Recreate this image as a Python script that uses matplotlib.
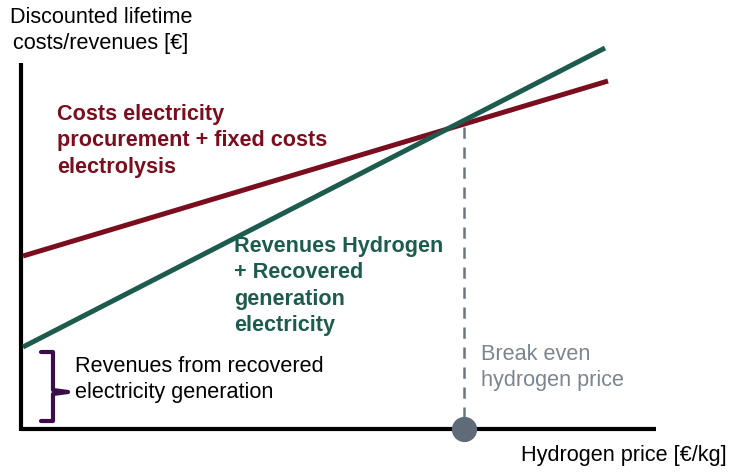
import matplotlib.pyplot as plt

plt.rcParams['font.family'] = ['Liberation Sans', 'DejaVu Sans']

# line endpoints (x = hydrogen price axis, y = discounted costs/revenues), in canvas units
costs_x = [23, 608]
costs_y = [256, 81]
rev_x = [23, 605]
rev_y = [347, 48]
break_even_x = 464
break_even_y = 127

red = '#7a0e1e'
green = '#1e5b4f'
purple = '#3b0e4b'
grey = '#7c858d'

fig = plt.figure(figsize=(7.34, 4.76), dpi=100)
ax = fig.add_axes([0, 0, 1, 1])
ax.set_xlim(0, 734)
ax.set_ylim(476, 0)
ax.axis('off')

# axes
ax.plot([21, 656], [429, 429], color='black', lw=3, solid_capstyle='butt')
ax.plot([21, 21], [63, 431], color='black', lw=3, solid_capstyle='butt')

# lines
ax.plot(costs_x, costs_y, color=red, lw=3.6, solid_capstyle='butt')
ax.plot(rev_x, rev_y, color=green, lw=3.6, solid_capstyle='butt')

# break even
ax.plot([break_even_x, break_even_x], [break_even_y, 429], color='#6b7580', lw=1.8,
        dashes=(4.5, 3.5))
ax.scatter([break_even_x], [429], s=330, color='#5f6b78', zorder=5, linewidths=0)

# brace
bx = [41, 53, 53, 68, 53, 53, 41]
by = [352, 352, 390, 392, 394, 421, 421]
ax.plot(bx, by, color=purple, lw=3, solid_joinstyle='round', solid_capstyle='round')

fs = 15.6
ls = 1.33
ax.text(57, 104, "Costs electricity\nprocurement + fixed costs\nelectrolysis", color=red,
        fontsize=fs, fontweight='bold', va='top', ha='left', linespacing=ls)
ax.text(234, 236, "Revenues Hydrogen\n+ Recovered\ngeneration\nelectricity", color=green,
        fontsize=fs, fontweight='bold', va='top', ha='left', linespacing=ls)
ax.text(75, 356, "Revenues from recovered\nelectricity generation", color='black',
        fontsize=fs, va='top', ha='left', linespacing=ls)
ax.text(481, 344, "Break even\nhydrogen price", color=grey,
        fontsize=fs, va='top', ha='left', linespacing=ls)
ax.text(101, 7, "Discounted lifetime\ncosts/revenues [€]", color='black',
        fontsize=fs, va='top', ha='center', linespacing=ls)
ax.text(727, 445, "Hydrogen price [€/kg]", color='black',
        fontsize=fs, va='top', ha='right')

fig.savefig('out.png', dpi=100)
